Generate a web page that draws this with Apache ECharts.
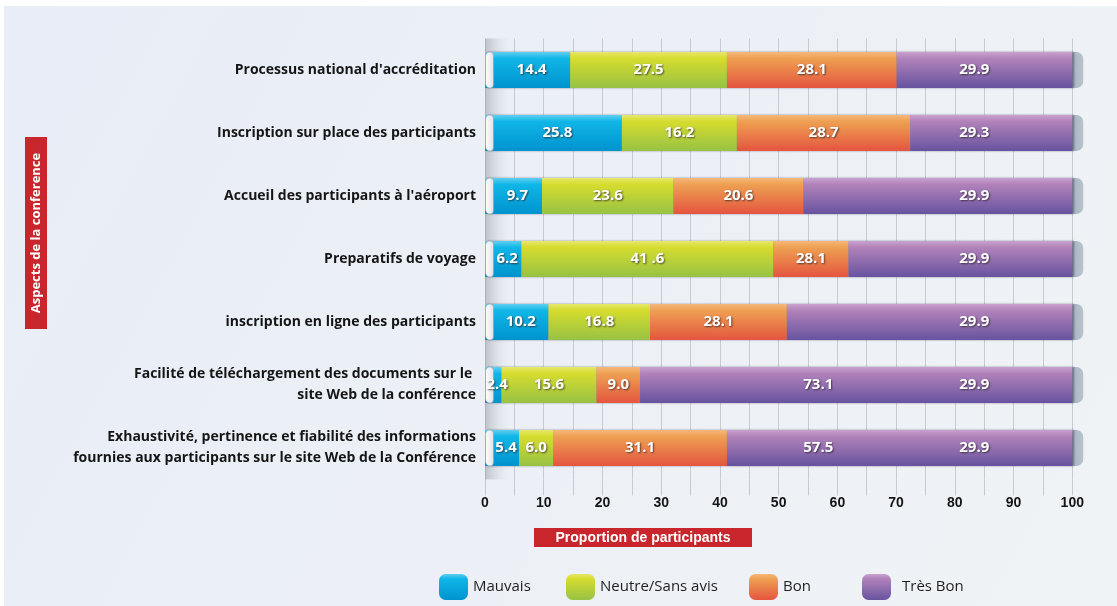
<!DOCTYPE html>
<html>
<head>
<meta charset="utf-8">
<script src="https://cdn.jsdelivr.net/npm/echarts@6/dist/echarts.min.js"></script>
<style>
  html, body { margin: 0; padding: 0; background: #ffffff; }
  #main { position: absolute; left: 4px; top: 6px; width: 1113px; height: 600px; }
</style>
</head>
<body>
<div id="main"></div>
<script>
// categories (top to bottom)
const categories = [
  "Processus national d'accréditation",
  "Inscription sur place des participants",
  "Accueil des participants à l'aéroport",
  "Preparatifs de voyage",
  "inscription en ligne des participants",
  "Facilité de téléchargement des documents sur le \nsite Web de la conférence",
  "Exhaustivité, pertinence et fiabilité des informations\nfournies aux participants sur le site Web de la Conférence"
];

// segment lengths as drawn in the picture (%)
const mauvais = [14.5, 23.3, 9.7, 6.2, 10.8, 2.8, 5.8];
const neutre  = [26.7, 19.6, 22.4, 42.9, 17.3, 16.2, 5.8];
const bon     = [28.9, 29.5, 22.1, 12.8, 23.3, 7.4, 29.6];
const tresBon = [29.9, 27.6, 45.8, 38.1, 48.6, 73.6, 58.8];

// numbers printed on the bars
const mauvaisLabels = ["14.4", "25.8", "9.7", "6.2", "10.2", "2.4", "5.4"];
const neutreLabels  = ["27.5", "16.2", "23.6", "41 .6", "16.8", "15.6", "6.0"];
const bonLabels     = ["28.1", "28.7", "20.6", "28.1", "28.1", "9.0", "31.1"];
const tresBonLabels = ["29.9", "29.3", "29.9", "29.9", "29.9", "29.9", "29.9"];
const extraLabels   = ["", "", "", "", "", "73.1", "57.5"];

const seriesNames = ["Mauvais", "Neutre/Sans avis", "Bon", "Très Bon"];

function grad(light, top, bottom) {
  return new echarts.graphic.LinearGradient(0, 0, 0, 1, [
    { offset: 0, color: light },
    { offset: 0.18, color: top },
    { offset: 1, color: bottom }
  ]);
}
const colors = [
  grad("#5fcff0", "#10b6e8", "#0093ce"),
  grad("#e6e86a", "#d6dc2e", "#97c244"),
  grad("#f5b87a", "#eea052", "#e4553f"),
  grad("#c9a2cf", "#b182ba", "#67539f")
];

const labelStyle = {
  show: true,
  color: "#ffffff",
  fontFamily: "Open Sans",
  fontWeight: "bold",
  fontSize: 15,
  textShadowColor: "rgba(40,30,30,0.75)",
  textShadowBlur: 2,
  textShadowOffsetX: 1,
  textShadowOffsetY: 1
};

function segSeries(i, data, texts, extra) {
  const label = Object.assign({}, labelStyle, {
    position: "inside",
    formatter: p => texts[p.dataIndex]
  });
  if (i === 0) label.offset = [4, 0];
  if (i === 3) {
    label.position = "insideRight";
    label.distance = 83;
    label.formatter = p => extra[p.dataIndex]
      ? "{a|" + extra[p.dataIndex] + "}{g|}{a|" + texts[p.dataIndex] + "}"
      : "{a|" + texts[p.dataIndex] + "}";
    label.rich = {
      a: Object.assign({}, labelStyle),
      g: { width: 126 }
    };
  }
  return {
    name: seriesNames[i],
    type: "bar",
    stack: "total",
    barWidth: 36,
    barGap: "-100%",
    z: 2,
    data: data,
    itemStyle: {
      color: colors[i],
      shadowColor: "rgba(30,20,60,0.45)",
      shadowBlur: 2,
      shadowOffsetX: 1.5
    },
    label: label
  };
}

const chart = echarts.init(document.getElementById("main"));

chart.setOption({
  backgroundColor: new echarts.graphic.LinearGradient(0, 0, 1, 1, [
    { offset: 0, color: "#e8edf7" },
    { offset: 1, color: "#f0f3f5" }
  ]),
  animation: false,
  grid: { left: 481, top: 32.5, width: 587.3, height: 441, outerBoundsMode: "none" },
  xAxis: {
    type: "value",
    min: 0,
    max: 100,
    interval: 10,
    axisLine: { show: false },
    axisTick: { show: true, length: 16, lineStyle: { color: "#c6cbd2" } },
    minorTick: { show: true, splitNumber: 2, length: 16, lineStyle: { color: "#c6cbd2" } },
    splitLine: { show: true, lineStyle: { color: "#c6cbd2", width: 1 } },
    minorSplitLine: { show: true, lineStyle: { color: "#c6cbd2", width: 1 } },
    axisLabel: {
      margin: 17,
      color: "#151515",
      fontFamily: "Liberation Sans",
      fontWeight: "bold",
      fontSize: 14
    }
  },
  yAxis: {
    type: "category",
    inverse: true,
    data: categories,
    axisLine: { show: false },
    axisTick: { show: false },
    axisLabel: {
      margin: 9,
      color: "#151515",
      fontFamily: "Open Sans",
      fontWeight: "bold",
      fontSize: 14,
      lineHeight: 21,
      align: "right"
    }
  },
  legend: [0, 1, 2, 3].map(i => ({
    data: [seriesNames[i]],
    left: [430, 557, 740, 853][i],
    top: 563,
    icon: "roundRect",
    itemWidth: 29,
    itemHeight: 26,
    itemGap: 0,
    selectedMode: false,
    textStyle: { fontFamily: "Open Sans", fontSize: 15, color: "#1e1e1e", padding: [0, 0, 0, i === 3 ? 6 : 0] }
  })),
  graphic: [
    {
      type: "group",
      left: 21,
      top: 131,
      children: [
        { type: "rect", shape: { x: 0, y: 0, width: 22, height: 192 }, style: { fill: "#c8262c" } },
        {
          type: "text",
          x: 11,
          y: 96,
          rotation: Math.PI / 2,
          style: {
            text: "Aspects de la conference",
            fill: "#ffffff",
            font: "bold 13px 'Open Sans'",
            align: "center",
            verticalAlign: "middle"
          }
        }
      ]
    },
    {
      type: "group",
      left: 530,
      top: 522,
      children: [
        { type: "rect", shape: { x: 0, y: 0, width: 218, height: 19 }, style: { fill: "#c8262c" } },
        {
          type: "text",
          x: 109,
          y: 10,
          style: {
            text: "Proportion de participants",
            fill: "#ffffff",
            font: "bold 14px 'Liberation Sans Narrow', 'Liberation Sans'",
            align: "center",
            verticalAlign: "middle"
          }
        }
      ]
    }
  ],
  series: [
    {
      // gray end caps behind the bars, plus the shaded strip at zero
      name: "caps",
      type: "custom",
      z: 1,
      silent: true,
      data: categories.map((c, i) => [i]),
      encode: { y: 0 },
      renderItem: (params, api) => {
        const p = api.coord([100, api.value(0)]);
        return {
          type: "rect",
          shape: { x: p[0] - 6, y: p[1] - 18, width: 17, height: 36, r: [0, 7, 7, 0] },
          style: {
            fill: new echarts.graphic.LinearGradient(0, 0, 1, 0, [
              { offset: 0, color: "#7d8d99" },
              { offset: 0.45, color: "#a9b8c2" },
              { offset: 1, color: "#b8c4cc" }
            ])
          }
        };
      },
      markArea: {
        silent: true,
        itemStyle: {
          color: new echarts.graphic.LinearGradient(0, 0, 1, 0, [
            { offset: 0, color: "rgba(150,156,166,0.55)" },
            { offset: 1, color: "rgba(220,225,232,0)" }
          ])
        },
        data: [[{ xAxis: 0 }, { xAxis: 4.5 }]]
      }
    },
    segSeries(0, mauvais, mauvaisLabels),
    segSeries(1, neutre, neutreLabels),
    segSeries(2, bon, bonLabels),
    segSeries(3, tresBon, tresBonLabels, extraLabels),
    {
      // white rounded starts of the bars
      name: "starts",
      type: "custom",
      z: 2,
      silent: true,
      data: categories.map((c, i) => [i]),
      encode: { y: 0 },
      renderItem: (params, api) => {
        const p = api.coord([0, api.value(0)]);
        return {
          type: "rect",
          z2: 1,
          shape: { x: p[0] + 0.5, y: p[1] - 18, width: 8, height: 36, r: [5, 4, 4, 5] },
          style: {
            fill: new echarts.graphic.LinearGradient(0, 0, 1, 0, [
              { offset: 0, color: "#ffffff" },
              { offset: 1, color: "#dde2e8" }
            ]),
            stroke: "rgba(140,150,160,0.6)",
            lineWidth: 0.8
          }
        };
      }
    }
  ]
});
</script>
</body>
</html>
